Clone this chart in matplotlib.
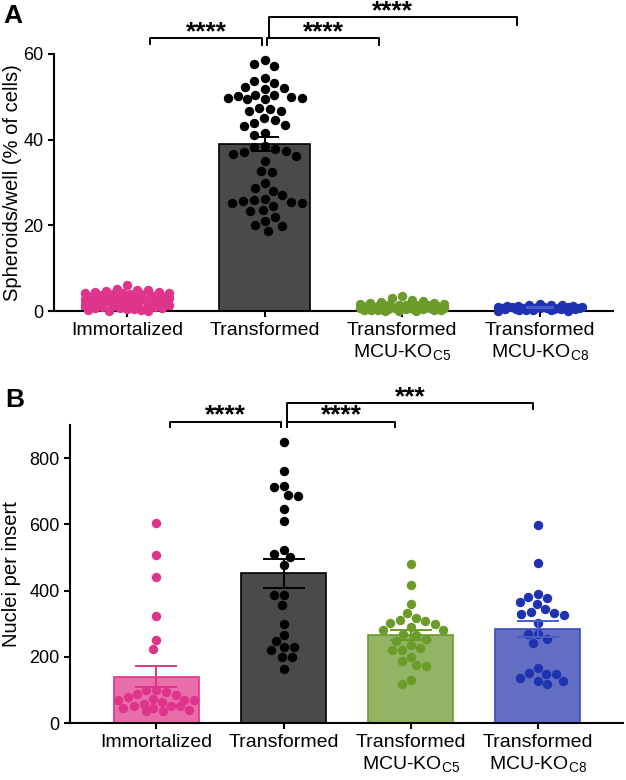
import numpy as np
import matplotlib
matplotlib.use("Agg")
from matplotlib import pyplot as plt

plt.rcParams['font.family'] = ['Liberation Sans', 'DejaVu Sans']
plt.rcParams['mathtext.fontset'] = 'custom'
plt.rcParams['mathtext.rm'] = 'Liberation Sans'

#DATA------------------------------------------------------------------------------------------------------------------#
groups = ["Immortalized", "Transformed",
          "Transformed\nMCU-KO$_{\\mathregular{C5}}$", "Transformed\nMCU-KO$_{\\mathregular{C8}}$"]

# Panel A : spheroids/well (% of cells) #
immortalized_a = [6.0, 5.2, 5.0, 4.8, 4.6, 4.5, 4.4, 4.3, 4.2, 4.1, 4.0, 4.0, 3.9, 3.8, 3.7, 3.6, 3.5, 3.4,
                  3.3, 3.2, 3.0, 2.9, 2.8, 2.7, 2.5, 2.4, 2.2, 2.0, 1.9, 1.8, 1.6, 1.5, 1.3, 1.2, 1.0, 0.9,
                  0.8, 0.6, 0.5, 0.4, 0.3, 0.2, 0.1, 0.0, 3.1, 2.6, 1.4, 0.7]
transformed_a = [58.6, 57.3, 57.7, 54.5, 53.3, 53.7, 52.2, 51.8, 52.0, 50.5, 49.6, 49.8, 50.2, 49.4, 50.4,
                 50.0, 49.7, 47.2, 46.6, 47.4, 46.8, 45.0, 44.5, 43.5, 43.2, 43.9, 41.6, 41.2, 38.6, 38.2,
                 37.4, 37.8, 37.1, 36.3, 36.7, 35.0, 32.5, 32.6, 29.9, 28.6, 28.1, 27.0, 26.2, 25.4, 25.6,
                 25.2, 25.8, 25.3, 24.5, 23.4, 23.6, 22.0, 21.1, 20.0, 19.9, 18.6]
ko_c5_a = [3.6, 3.0, 2.6, 2.3, 2.1, 1.9, 1.8, 1.7, 1.6, 1.5, 1.4, 1.3, 1.3, 1.2, 1.1, 1.0, 1.0, 0.9, 0.9,
           0.8, 0.8, 0.7, 0.7, 0.6, 0.6, 0.5, 0.5, 0.4, 0.4, 0.3, 0.3, 0.2, 0.2, 0.1, 0.1, 0.0, 1.5, 1.1,
           0.6, 0.3]
ko_c8_a = [1.7, 1.5, 1.4, 1.3, 1.2, 1.1, 1.1, 1.0, 1.0, 0.9, 0.9, 0.8, 0.8, 0.8, 0.7, 0.7, 0.6, 0.6, 0.5,
           0.5, 0.4, 0.4, 0.3, 0.3, 0.2, 0.2, 0.1, 0.1, 0.9, 0.6, 0.5, 1.0]

# Panel B : nuclei per insert #
immortalized_b = [605, 506, 441, 322, 250, 222, 73, 46, 58, 78, 50, 89, 50, 94, 68, 36, 86, 50, 99, 68, 40,
                  101, 70, 46, 63, 36]
transformed_b = [848, 760, 717, 690, 712, 687, 647, 610, 523, 501, 511, 478, 387, 387, 357, 300, 267, 248,
                 221, 229, 229, 199, 199, 164]
ko_c5_b = [481, 418, 360, 307, 303, 310, 317, 332, 299, 282, 282, 290, 265, 270, 255, 248, 236, 227, 221,
           219, 199, 187, 174, 171, 131, 119]
ko_c8_b = [597, 483, 380, 378, 360, 365, 390, 343, 325, 330, 333, 335, 302, 270, 270, 255, 243, 167, 149,
           127, 147, 152, 127, 137, 119]

# Comparisons (group i, group j, label) #
stars_a = [(0, 1, "****"), (1, 2, "****"), (1, 3, "****")]
stars_b = [(0, 1, "****"), (1, 2, "****"), (1, 3, "***")]

#STYLES----------------------------------------------------------------------------------------------------------------#
bar_face = ["#e86eaa", "#4a4a4a", "#92b464", "#626ec3"]
bar_edge = ["#de348c", "#000000", "#6b9b28", "#3a4cc0"]
dot_color = ["#de348c", "#000000", "#6b9b28", "#1f33b0"]
err_color = ["#de348c", "#000000", "#6b9b28", "#4a5cc8"]


def swarm(ax, values, center, d_px, max_px):
    # simple beeswarm in pixel space #
    trans = ax.transData
    ys = trans.transform(np.column_stack([np.full(len(values), center), values]))[:, 1]
    ppu = trans.transform([[1, 0]])[0, 0] - trans.transform([[0, 0]])[0, 0]
    placed = []
    offs = np.zeros(len(values))
    for i in np.argsort(values)[::-1]:
        y = ys[i]
        cands = [0.0]
        for px, py in placed:
            dy = abs(py - y)
            if dy < d_px:
                dx = np.sqrt(d_px ** 2 - dy ** 2)
                cands += [px - dx, px + dx]
        chosen = None
        for c in sorted(cands, key=abs):
            if abs(c) > max_px:
                continue
            if all((c - px) ** 2 + (y - py) ** 2 >= d_px ** 2 - 1e-6 for px, py in placed):
                chosen = c
                break
        if chosen is None:
            grid = np.linspace(-max_px, max_px, 25)
            chosen = max(grid, key=lambda c: min((c - px) ** 2 + (y - py) ** 2 for px, py in placed))
        placed.append((chosen, y))
        offs[i] = chosen / ppu
    return center + offs


def panel(ax, data, xlim, ylim, yticks, ylabel, width, capsize, d_px, max_px):
    x = np.arange(len(data))
    means = [np.mean(d) for d in data]
    sems = [np.std(d, ddof=1) / np.sqrt(len(d)) for d in data]
    ax.set_xlim(*xlim)
    ax.set_ylim(*ylim)
    ax.bar(x, means, width=width, color=bar_face, edgecolor=bar_edge, linewidth=1.2, zorder=2)
    for i, d in enumerate(data):
        xs = swarm(ax, np.array(d, float), x[i], d_px, max_px)
        ax.scatter(xs, d, s=46, color=dot_color[i], linewidths=0, zorder=3, clip_on=False)
        ax.errorbar(x[i], means[i], yerr=sems[i], color=err_color[i], capsize=capsize,
                    elinewidth=1.4, capthick=1.4, zorder=4)
    ax.set_xticks(x)
    ax.set_xticklabels(groups, fontsize=14, linespacing=1.25)
    ax.set_yticks(yticks)
    ax.tick_params(axis='y', labelsize=13, width=1.5, length=4)
    ax.tick_params(axis='x', width=1.5, length=4, pad=4)
    ax.set_ylabel(ylabel, fontsize=14.5)
    for s in ['top', 'right']:
        ax.spines[s].set_visible(False)
    for s in ['left', 'bottom']:
        ax.spines[s].set_linewidth(1.5)


def bracket(ax, x1, x2, y, drop1, drop2, label, txt_off):
    ax.plot([x1, x1, x2, x2], [y - drop1, y, y, y - drop2], color='black', lw=1.4,
            clip_on=False, zorder=5)
    ax.annotate(label, xy=((x1 + x2) / 2, y), xytext=(0, txt_off), textcoords='offset points',
                ha='center', va='baseline', fontsize=19, fontweight='bold', annotation_clip=False)


#PLOTTING--------------------------------------------------------------------------------------------------------------#
fig = plt.figure(figsize=(6.26, 7.8), dpi=100)
axA = fig.add_axes([54 / 626, 1 - 311 / 780, 559 / 626, 257 / 780])
axB = fig.add_axes([70 / 626, 57 / 780, 553 / 626, 298 / 780])

panel(axA, [immortalized_a, transformed_a, ko_c5_a, ko_c8_a], (-0.53, 3.53), (0, 60), [0, 20, 40, 60],
      "Spheroids/well (% of cells)", 0.66, 10, 11.0, 42)
panel(axB, [immortalized_b, transformed_b, ko_c5_b, ko_c8_b], (-0.68, 3.67), (0, 900),
      [0, 200, 400, 600, 800], "Nuclei per insert", 0.67, 15, 10.0, 40)
axA.yaxis.set_label_coords(-0.058, 0.5)
axB.yaxis.set_label_coords(-0.088, 0.5)

# Significance brackets #
bracket(axA, stars_a[0][0] + 0.17, stars_a[0][1] - 0.02, 63.7, 1.4, 1.6, stars_a[0][2], -0.5)
bracket(axA, stars_a[1][0] + 0.02, stars_a[1][1] - 0.17, 63.7, 1.6, 1.6, stars_a[1][2], -0.5)
bracket(axA, stars_a[2][0] + 0.03, stars_a[2][1] - 0.17, 68.6, 4.9, 1.9, stars_a[2][2], -0.5)

bracket(axB, stars_b[0][0] + 0.11, stars_b[0][1] - 0.02, 909, 15, 15, stars_b[0][2], -0.5)
bracket(axB, stars_b[1][0] + 0.03, stars_b[1][1] - 0.12, 909, 15, 15, stars_b[1][2], -0.5)
bracket(axB, stars_b[2][0] + 0.03, stars_b[2][1] - 0.04, 966, 57, 18, stars_b[2][2], -0.5)

fig.text(0.005, 0.995, "A", fontsize=19, fontweight='bold', va='top', ha='left')
fig.text(0.008, 0.503, "B", fontsize=19, fontweight='bold', va='top', ha='left')

fig.savefig("out.png", dpi=100)
